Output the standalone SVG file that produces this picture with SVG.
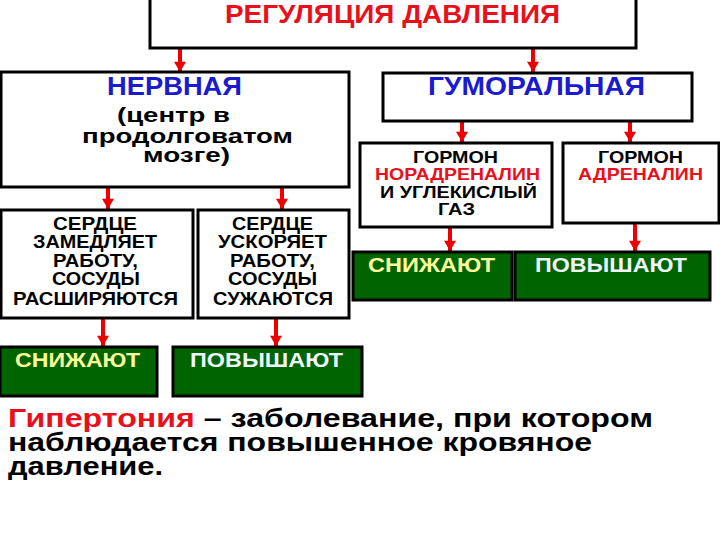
<svg xmlns="http://www.w3.org/2000/svg" width="720" height="540" viewBox="0 0 720 540">
<style>
  text { font-family: "Liberation Sans", Arial, sans-serif; font-weight: bold; text-anchor: middle; }
  .box { fill: #ffffff; stroke: #000000; stroke-width: 3; }
  .gbox { fill: #006400; stroke: #000000; stroke-width: 3; }
  .title { fill: #e8101a; font-size: 26px; }
  .blue { fill: #1a1ad0; font-size: 25px; }
  .blk { fill: #000000; }
  .red { fill: #e8101a; }
  .m { font-size: 21px; }
  .s { font-size: 16.5px; }
  .h { font-size: 17.5px; }
  .g { font-size: 20px; }
  .yel { fill: #ffff99; }
  .wht { fill: #f0f4ff; }
  .note { font-size: 26px; text-anchor: start; }
  .arr { stroke: #ee0000; stroke-width: 4; fill: none; }
</style>
<defs>
  <marker id="ahd" markerUnits="userSpaceOnUse" markerWidth="14" markerHeight="12" refX="12" refY="7" orient="auto" viewBox="0 0 12 14">
    <path d="M0,0 L12,7 L0,14 Z" fill="#ee0000"/>
  </marker>
</defs>

<g id="connectors">
  <line class="arr" x1="180" y1="48" x2="180" y2="72" marker-end="url(#ahd)"/>
  <line class="arr" x1="533" y1="48" x2="533" y2="72" marker-end="url(#ahd)"/>
  <line class="arr" x1="108" y1="187" x2="108" y2="209" marker-end="url(#ahd)"/>
  <line class="arr" x1="282" y1="187" x2="282" y2="209" marker-end="url(#ahd)"/>
  <line class="arr" x1="462" y1="121" x2="462" y2="142" marker-end="url(#ahd)"/>
  <line class="arr" x1="630" y1="121" x2="630" y2="142" marker-end="url(#ahd)"/>
  <line class="arr" x1="103" y1="318" x2="103" y2="346" marker-end="url(#ahd)"/>
  <line class="arr" x1="276" y1="318" x2="276" y2="346" marker-end="url(#ahd)"/>
  <line class="arr" x1="450" y1="227" x2="450" y2="251" marker-end="url(#ahd)"/>
  <line class="arr" x1="635" y1="223" x2="635" y2="251" marker-end="url(#ahd)"/>
</g>

<g id="regulation">
  <rect class="box" x="150" y="-2" width="486" height="50"/>
  <text class="title" x="392.5" y="23" textLength="335" lengthAdjust="spacingAndGlyphs">РЕГУЛЯЦИЯ ДАВЛЕНИЯ</text>
</g>

<g id="nervous">
  <rect class="box" x="1" y="72" width="348" height="115"/>
  <text class="blue" x="174.5" y="95" textLength="135" lengthAdjust="spacingAndGlyphs">НЕРВНАЯ</text>
  <text class="blk m" x="173.5" y="122" textLength="113" lengthAdjust="spacingAndGlyphs">(центр в</text>
  <text class="blk m" x="187.5" y="143" textLength="211" lengthAdjust="spacingAndGlyphs">продолговатом</text>
  <text class="blk m" x="186.5" y="162" textLength="87" lengthAdjust="spacingAndGlyphs">мозге)</text>
</g>

<g id="humoral">
  <rect class="box" x="383" y="73" width="309" height="48"/>
  <text class="blue" x="536.5" y="95" textLength="217" lengthAdjust="spacingAndGlyphs">ГУМОРАЛЬНАЯ</text>
</g>

<g id="noradrenaline">
  <rect class="box" x="360" y="143" width="192" height="84"/>
  <text class="blk s" x="455.5" y="163" textLength="85" lengthAdjust="spacingAndGlyphs">ГОРМОН</text>
  <text class="red s" x="457.5" y="180" textLength="165" lengthAdjust="spacingAndGlyphs">НОРАДРЕНАЛИН</text>
  <text class="blk s" x="458.5" y="198" textLength="157" lengthAdjust="spacingAndGlyphs">И УГЛЕКИСЛЫЙ</text>
  <text class="blk s" x="456.5" y="215" textLength="37" lengthAdjust="spacingAndGlyphs">ГАЗ</text>
</g>

<g id="adrenaline">
  <rect class="box" x="563" y="143" width="156" height="80"/>
  <text class="blk s" x="640.5" y="163" textLength="85" lengthAdjust="spacingAndGlyphs">ГОРМОН</text>
  <text class="red s" x="640.5" y="180" textLength="125" lengthAdjust="spacingAndGlyphs">АДРЕНАЛИН</text>
</g>

<g id="heart-slow">
  <rect class="box" x="1" y="210" width="192" height="108"/>
  <text class="blk h" x="95" y="230" textLength="84" lengthAdjust="spacingAndGlyphs">СЕРДЦЕ</text>
  <text class="blk h" x="95" y="248" textLength="124" lengthAdjust="spacingAndGlyphs">ЗАМЕДЛЯЕТ</text>
  <text class="blk h" x="95.5" y="267" textLength="85" lengthAdjust="spacingAndGlyphs">РАБОТУ,</text>
  <text class="blk h" x="96" y="285" textLength="88" lengthAdjust="spacingAndGlyphs">СОСУДЫ</text>
  <text class="blk h" x="95.5" y="305" textLength="165" lengthAdjust="spacingAndGlyphs">РАСШИРЯЮТСЯ</text>
</g>

<g id="heart-fast">
  <rect class="box" x="198" y="210" width="151" height="108"/>
  <text class="blk h" x="272.5" y="230" textLength="81" lengthAdjust="spacingAndGlyphs">СЕРДЦЕ</text>
  <text class="blk h" x="272.5" y="248" textLength="109" lengthAdjust="spacingAndGlyphs">УСКОРЯЕТ</text>
  <text class="blk h" x="272.5" y="267" textLength="85" lengthAdjust="spacingAndGlyphs">РАБОТУ,</text>
  <text class="blk h" x="272.5" y="285" textLength="89" lengthAdjust="spacingAndGlyphs">СОСУДЫ</text>
  <text class="blk h" x="273" y="305" textLength="120" lengthAdjust="spacingAndGlyphs">СУЖАЮТСЯ</text>
</g>

<g id="lower-nervous">
  <rect class="gbox" x="0" y="347" width="157" height="49"/>
  <text class="g yel" x="77.5" y="367" textLength="125" lengthAdjust="spacingAndGlyphs">СНИЖАЮТ</text>
</g>

<g id="raise-nervous">
  <rect class="gbox" x="173" y="347" width="189" height="49"/>
  <text class="g wht" x="266.5" y="367" textLength="153" lengthAdjust="spacingAndGlyphs">ПОВЫШАЮТ</text>
</g>

<g id="lower-humoral">
  <rect class="gbox" x="353" y="252" width="159" height="48"/>
  <text class="g yel" x="431.5" y="272" textLength="127" lengthAdjust="spacingAndGlyphs">СНИЖАЮТ</text>
</g>

<g id="raise-humoral">
  <rect class="gbox" x="515" y="252" width="195" height="48"/>
  <text class="g wht" x="611" y="272" textLength="152" lengthAdjust="spacingAndGlyphs">ПОВЫШАЮТ</text>
</g>

<g id="definition">
  <text class="note" x="8" y="427" textLength="645" lengthAdjust="spacingAndGlyphs"><tspan class="red">Гипертония</tspan><tspan class="blk"> – заболевание, при котором</tspan></text>
  <text class="note blk" x="8" y="451" textLength="584" lengthAdjust="spacingAndGlyphs">наблюдается повышенное кровяное</text>
  <text class="note blk" x="8" y="475" textLength="155" lengthAdjust="spacingAndGlyphs">давление.</text>
</g>
</svg>
